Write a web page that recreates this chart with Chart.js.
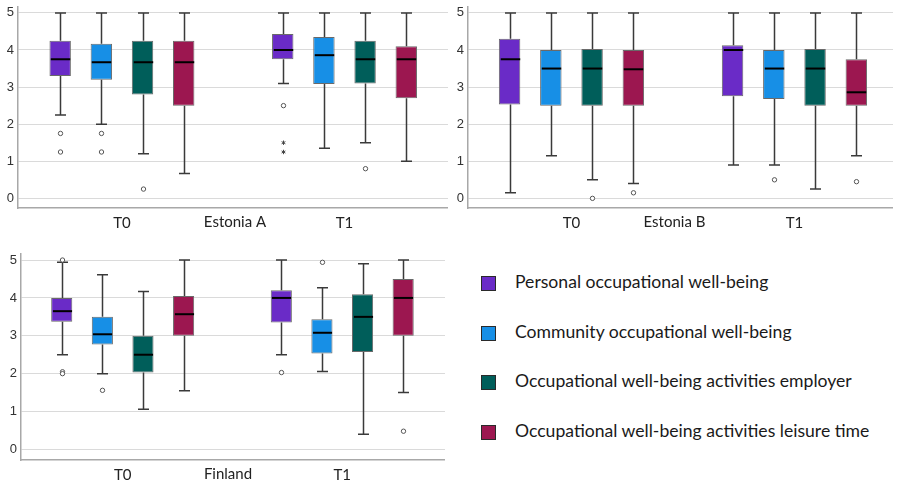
<!DOCTYPE html>
<html><head><meta charset="utf-8">
<script src="https://cdn.jsdelivr.net/npm/chart.js@4.4.1/dist/chart.umd.min.js"></script>
<style>
html,body{margin:0;padding:0;background:#fff;width:897px;height:484px;overflow:hidden;}
.pane{position:absolute;}
#legend{position:absolute;left:0;top:0;font-family:Lato,'Open Sans',sans-serif;font-size:17.6px;color:#1a1a1a;}
.sw{position:absolute;width:13px;height:13px;border:1px solid #2a2a2a;}
.lt{position:absolute;white-space:nowrap;line-height:22px;}
</style></head><body>
<div class="pane" style="left:0;top:0;width:448px;height:235px"><canvas id="c1"></canvas></div>
<div class="pane" style="left:450px;top:0;width:443px;height:235px"><canvas id="c2"></canvas></div>
<div class="pane" style="left:0;top:240px;width:445px;height:244px"><canvas id="c3"></canvas></div>
<div id="legend"></div>
<script>
const series = ['Personal occupational well-being','Community occupational well-being','Occupational well-being activities employer','Occupational well-being activities leisure time'];
const colors = ['#6a2bc7','#178fe6','#005e5a','#9c1750'];
const timepoints = ['T0','T1'];
const yTicks = [0,1,2,3,4,5];

// Estonia A — rows: series, columns: T0, T1
const estA_low  = [[2.25,3.1],[2.0,1.35],[1.2,1.5],[0.67,1.0]];
const estA_q1   = [[3.3,3.75],[3.2,3.08],[2.8,3.1],[2.5,2.7]];
const estA_med  = [[3.75,4.0],[3.67,3.86],[3.67,3.75],[3.67,3.75]];
const estA_q3   = [[4.25,4.43],[4.17,4.35],[4.25,4.25],[4.25,4.1]];
const estA_high = [[5,5],[5,5],[5,5],[5,5]];
const estA_out  = [[[1.75,1.25],[2.5]],[[1.75,1.25],[]],[[0.25],[0.8]],[[],[]]];
const estA_ext  = [[[],[1.5,1.25]],[[],[]],[[],[]],[[],[]]];

// Estonia B
const estB_low  = [[0.15,0.9],[1.15,0.9],[0.5,0.25],[0.4,1.15]];
const estB_q1   = [[2.53,2.75],[2.5,2.68],[2.5,2.5],[2.5,2.5]];
const estB_med  = [[3.75,4.0],[3.5,3.5],[3.5,3.5],[3.48,2.86]];
const estB_q3   = [[4.3,4.13],[4.0,4.0],[4.03,4.03],[4.0,3.75]];
const estB_high = [[5,5],[5,5],[5,5],[5,5]];
const estB_out  = [[[],[]],[[],[0.5]],[[0],[]],[[0.15],[0.45]]];
const estB_ext  = [[[],[]],[[],[]],[[],[]],[[],[]]];

// Finland
const fin_low  = [[2.5,2.5],[2.0,2.06],[1.06,0.4],[1.55,1.5]];
const fin_q1   = [[3.37,3.35],[2.77,2.53],[2.03,2.57],[3.0,3.0]];
const fin_med  = [[3.65,4.0],[3.04,3.08],[2.5,3.5],[3.57,4.0]];
const fin_q3   = [[4.0,4.2],[3.5,3.44],[3.0,4.1],[4.05,4.5]];
const fin_high = [[4.94,5],[4.61,4.27],[4.17,4.9],[5,5]];
const fin_out  = [[[5.0,2.05,2.0],[2.03]],[[1.56],[4.94]],[[],[]],[[],[0.48]]];
const fin_ext  = [[[],[]],[[],[]],[[],[]],[[],[]]];

function boxPlugin(st){
  return {
    id:'boxwhisk',
    afterDatasetsDraw(chart){
      const ctx = chart.ctx, y = chart.scales.y;
      ctx.save();
      chart.data.datasets.forEach((ds,i)=>{
        chart.getDatasetMeta(i).data.forEach((el,j)=>{
          const x = Math.round(el.x)+0.5, w = el.width;
          const yl = y.getPixelForValue(st.low[i][j]), yh = y.getPixelForValue(st.high[i][j]);
          const y1 = y.getPixelForValue(st.q1[i][j]), y3 = y.getPixelForValue(st.q3[i][j]);
          const ym = y.getPixelForValue(st.med[i][j]);
          ctx.strokeStyle = '#3a3a3a'; ctx.lineWidth = 1.5;
          ctx.beginPath();
          ctx.moveTo(x, y3); ctx.lineTo(x, yh);
          ctx.moveTo(x, y1); ctx.lineTo(x, yl);
          ctx.moveTo(x-5.5, yh); ctx.lineTo(x+5.5, yh);
          ctx.moveTo(x-5.5, yl); ctx.lineTo(x+5.5, yl);
          ctx.stroke();
          ctx.strokeStyle = '#000'; ctx.lineWidth = 2;
          ctx.beginPath(); ctx.moveTo(x-w/2+1, ym); ctx.lineTo(x+w/2-1, ym); ctx.stroke();
          ctx.lineWidth = 1; ctx.strokeStyle = '#555'; ctx.fillStyle = '#fff';
          st.out[i][j].forEach(v=>{
            const py = y.getPixelForValue(v);
            ctx.beginPath(); ctx.arc(x, py, 2.2, 0, Math.PI*2); ctx.fill(); ctx.stroke();
          });
          ctx.strokeStyle = '#444'; ctx.lineWidth = 1;
          st.ext[i][j].forEach(v=>{
            const py = y.getPixelForValue(v);
            ctx.beginPath();
            for(let k=0;k<3;k++){const a=Math.PI/2+k*Math.PI/3;ctx.moveTo(x-2.2*Math.cos(a),py-2.2*Math.sin(a));ctx.lineTo(x+2.2*Math.cos(a),py+2.2*Math.sin(a));}
            ctx.stroke();
          });
        });
      });
      ctx.restore();
    },
    afterDraw(chart){
      const ctx = chart.ctx, a = chart.chartArea;
      ctx.save();
      ctx.font = '15px Lato, "Open Sans", sans-serif';
      ctx.fillStyle = '#222'; ctx.textAlign = 'center'; ctx.textBaseline = 'middle';
      ctx.fillText(st.name, (a.left+a.right)/2 + st.dx, a.bottom + 14);
      ctx.restore();
    }
  };
}

function makePanel(id, st, cfg){
  const datasets = series.map((s,i)=>({
    label:s, backgroundColor:colors[i], borderColor:'#6a6a6a', borderWidth:1, borderSkipped:false,
    categoryPercentage:0.74, barPercentage:0.52,
    data: timepoints.map((t,j)=>({x:j, y:[st.q1[i][j], st.q3[i][j]]}))
  }));
  new Chart(document.getElementById(id), {
    type:'bar',
    data:{datasets},
    plugins:[boxPlugin(st)],
    options:{
      animation:false, responsive:true, maintainAspectRatio:false,
      layout:{padding:{top:cfg.padTop,left:0,right:0,bottom:0}},
      plugins:{legend:{display:false}, tooltip:{enabled:false}},
      scales:{
        x:{type:'linear', offset:false, min:cfg.xMin, max:cfg.xMax,
           afterBuildTicks:s=>{s.ticks = timepoints.map((t,j)=>({value:j}));},
           afterFit:s=>{s.height = cfg.xH;},
           grid:{display:false, drawTicks:false, offset:false},
           border:{display:true,color:'#a8a8a8',width:1.5},
           ticks:{callback:v=>timepoints[v]||'', autoSkip:false, maxRotation:0, padding:6,
                  color:'#222', font:{family:'Lato, "Open Sans", sans-serif', size:15}}},
        y:{min:cfg.yMin, max:cfg.yMax,
           afterBuildTicks:s=>{s.ticks = yTicks.map(v=>({value:v}));},
           afterFit:s=>{s.width = cfg.yW;},
           grid:{color:'#dadada', lineWidth:1, drawTicks:false},
           border:{color:'#a8a8a8', width:1.5},
           ticks:{padding:4, color:'#333', font:{family:'"Liberation Sans", Arial, sans-serif', size:13, lineHeight:0.4}}}
      }
    }
  });
}

makePanel('c1', {name:'Estonia A', dx:2, low:estA_low,q1:estA_q1,med:estA_med,q3:estA_q3,high:estA_high,out:estA_out,ext:estA_ext},
  {padTop:3, xH:27, yW:18, yMin:-0.26, yMax:5.17, xMin:-0.467, xMax:1.465});
makePanel('c2', {name:'Estonia B', dx:-6, low:estB_low,q1:estB_q1,med:estB_med,q3:estB_q3,high:estB_high,out:estB_out,ext:estB_ext},
  {padTop:3, xH:27, yW:18, yMin:-0.26, yMax:5.17, xMin:-0.464, xMax:1.442});
makePanel('c3', {name:'Finland', dx:-5, low:fin_low,q1:fin_q1,med:fin_med,q3:fin_q3,high:fin_high,out:fin_out,ext:fin_ext},
  {padTop:14, xH:24, yW:21, yMin:-0.28, yMax:5.16, xMin:-0.463, xMax:1.468});

// HTML legend
const legendCenters = [283,333,382,432];
const lg = document.getElementById('legend');
series.forEach((s,i)=>{
  const sw = document.createElement('div'); sw.className='sw';
  sw.style.left='481px'; sw.style.top=(legendCenters[i]-7)+'px'; sw.style.background=colors[i];
  const t = document.createElement('div'); t.className='lt'; t.textContent=s;
  t.style.left='515px'; t.style.top=(legendCenters[i]-12)+'px';
  lg.appendChild(sw); lg.appendChild(t);
});
</script>
</body></html>
